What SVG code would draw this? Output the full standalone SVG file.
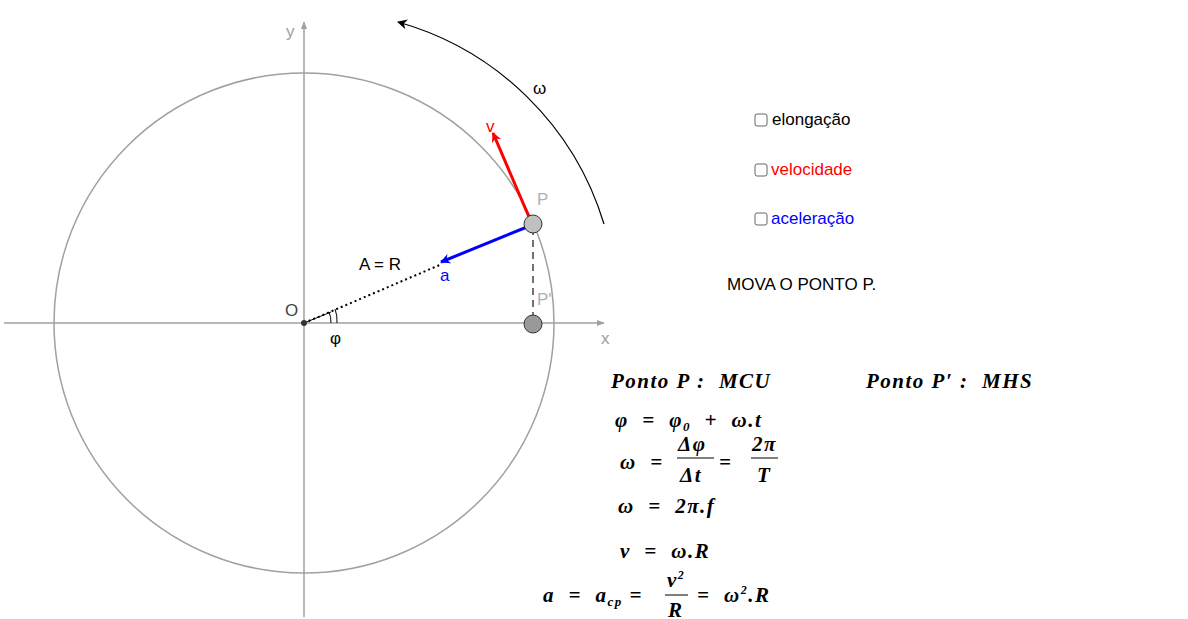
<svg xmlns="http://www.w3.org/2000/svg" width="1188" height="619" viewBox="0 0 1188 619">
<style>
.ax{stroke:#a0a0a0;stroke-width:1.5;fill:none}
.lbl{font-family:"Liberation Sans",sans-serif;font-size:17px}
.m{font-family:"Liberation Serif",serif;font-weight:bold;font-style:italic;font-size:21px;white-space:pre;letter-spacing:1.5px}
.cb{fill:#fff;stroke:#666;stroke-width:1}
</style>
<defs>
<marker id="ag" viewBox="0 0 10 10" refX="9" refY="5" markerWidth="8" markerHeight="8" orient="auto" markerUnits="userSpaceOnUse"><path d="M0,1 L10,5 L0,9z" fill="#a0a0a0"/></marker>
<marker id="ar" viewBox="0 0 10 10" refX="9" refY="5" markerWidth="14" markerHeight="10" orient="auto" markerUnits="userSpaceOnUse"><path d="M0,0 L10,5 L0,10 L3,5z" fill="red"/></marker>
<marker id="ab" viewBox="0 0 10 10" refX="9" refY="5" markerWidth="14" markerHeight="10" orient="auto" markerUnits="userSpaceOnUse"><path d="M0,0 L10,5 L0,10 L3,5z" fill="blue"/></marker>
<marker id="ak" viewBox="0 0 10 10" refX="9" refY="5" markerWidth="12" markerHeight="10" orient="auto" markerUnits="userSpaceOnUse"><path d="M0,0 L10,5 L0,10 L3,5z" fill="#000"/></marker>
</defs>
<rect width="1188" height="619" fill="#fff"/>
<g id="axes">
<line class="ax" x1="4" y1="323" x2="604" y2="323" marker-end="url(#ag)"/>
<line class="ax" x1="304" y1="617" x2="304" y2="22" marker-end="url(#ag)"/>
<text class="lbl" x="601" y="344" fill="#a0a0a0">x</text>
<text class="lbl" x="286" y="37" fill="#a0a0a0">y</text>
<circle cx="304" cy="323" r="250" class="ax"/>
</g>
<g id="connectors">
<line x1="304" y1="323" x2="442" y2="264" stroke="#000" stroke-width="2" stroke-dasharray="2,3"/>
<path d="M331,323 A27,27 0 0 0 329,312 M337,323 A33,33 0 0 0 335,309" fill="none" stroke="#000"/>
<line x1="304" y1="323" x2="331" y2="312" stroke="#000"/>
<line x1="533" y1="228" x2="533" y2="318" stroke="#444" stroke-width="1.5" stroke-dasharray="7,5"/>
<line x1="527" y1="227" x2="441" y2="262" stroke="blue" stroke-width="3" marker-end="url(#ab)"/>
<line x1="529" y1="217" x2="493" y2="133" stroke="red" stroke-width="3" marker-end="url(#ar)"/>
<path d="M604,224 A300,300 0 0 0 398,22" fill="none" stroke="#000" stroke-width="1.2" marker-end="url(#ak)"/>
</g>
<g id="O"><circle cx="304" cy="323" r="3" fill="#333"/><text class="lbl" x="285" y="316" fill="#444">O</text></g>
<g id="P"><circle cx="533" cy="224" r="9" fill="#c0c0c0" stroke="#333"/><text class="lbl" x="537" y="205" fill="#b0b0b0">P</text></g>
<g id="Pp"><circle cx="533" cy="324" r="9" fill="#999" stroke="#333"/><text class="lbl" x="537" y="305" fill="#b0b0b0">P'</text></g>
<text class="lbl" x="330" y="344">φ</text>
<text class="lbl" x="359" y="270">A = R</text>
<text class="lbl" x="440" y="281" fill="blue">a</text>
<text class="lbl" x="486" y="132" fill="red">v</text>
<text class="lbl" x="533" y="94">ω</text>
<g id="checks">
<rect class="cb" x="755" y="114" width="12" height="12" rx="2"/><text class="lbl" x="772" y="125">elongação</text>
<rect class="cb" x="755" y="164" width="12" height="12" rx="2"/><text class="lbl" x="771" y="175" fill="red">velocidade</text>
<rect class="cb" x="755" y="213" width="12" height="12" rx="2"/><text class="lbl" x="771" y="224" fill="blue">aceleração</text>
</g>
<text class="lbl" x="727" y="290">MOVA O PONTO P.</text>
<g id="formulas">
<text class="m" x="611" y="388">Ponto P :  MCU</text>
<text class="m" x="866" y="388">Ponto P′ :  MHS</text>
<text class="m" x="615" y="427">φ  =  φ<tspan font-size="13" dy="4">0</tspan><tspan dy="-4">  +  ω.t</tspan></text>
<text class="m" x="620" y="469">ω  =</text>
<text class="m" x="678" y="451">Δφ</text><line x1="677" y1="458" x2="714" y2="458" stroke="#000"/><text class="m" x="680" y="482">Δt</text>
<text class="m" x="719" y="469">=</text>
<text class="m" x="752" y="451">2π</text><line x1="751" y1="458" x2="778" y2="458" stroke="#000"/><text class="m" x="757" y="482">T</text>
<text class="m" x="618" y="513">ω  =  2π.f</text>
<text class="m" x="620" y="558">v  =  ω.R</text>
<text class="m" x="543" y="602">a  =  a<tspan font-size="13" dy="4">cp</tspan><tspan dy="-4"> =</tspan></text>
<text class="m" x="667" y="587">v<tspan font-size="12" dy="-8">2</tspan></text><line x1="665" y1="595" x2="688" y2="595" stroke="#000"/><text class="m" x="668" y="617">R</text>
<text class="m" x="697" y="602">=  ω<tspan font-size="12" dy="-8">2</tspan><tspan dy="8">.R</tspan></text>
</g>
</svg>
